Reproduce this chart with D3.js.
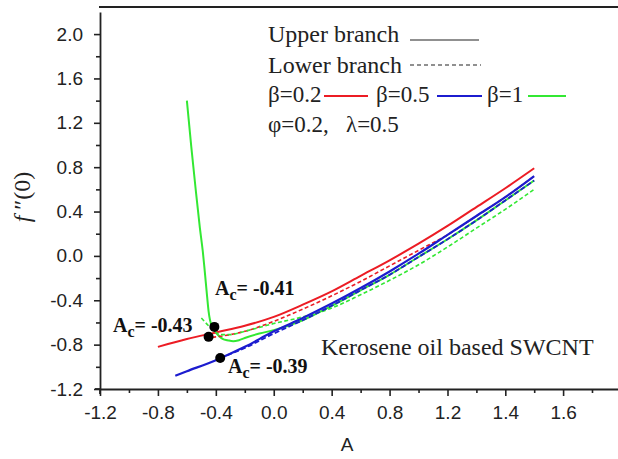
<!DOCTYPE html>
<html>
<head>
<meta charset="utf-8">
<script src="https://cdn.jsdelivr.net/npm/d3@7"></script>
<style>
  body { margin: 0; background: #fff; }
  svg { display: block; }
</style>
</head>
<body>
<svg id="chart" width="618" height="459"></svg>
<script>
// ticks
const xTicks = [-1.2, -0.8, -0.4, 0.0, 0.4, 0.8, 1.2, 1.4, 1.6];
const xMinor = [-1.0, -0.6, -0.2, 0.2, 0.6, 1.0, 1.3, 1.5, 1.7];
const yTicks = [-1.2, -0.8, -0.4, 0.0, 0.4, 0.8, 1.2, 1.6, 2.0];
const yMinor = [-1.0, -0.6, -0.2, 0.2, 0.6, 1.0, 1.4, 1.8];

// beta = 0.2 (red)
const redUpperA = [-0.8, -0.6, -0.4, -0.2, 0.0, 0.2, 0.4, 0.6, 0.8, 1.0, 1.2, 1.3, 1.4, 1.5];
const redUpperF = [-0.82, -0.75, -0.69, -0.63, -0.55, -0.44, -0.32, -0.18, -0.04, 0.11, 0.27, 0.44, 0.61, 0.79];
const redLowerA = [-0.47, -0.4, -0.2, 0.0, 0.2, 0.4, 0.6, 0.8, 1.0, 1.2, 1.3, 1.4, 1.5];
const redLowerF = [-0.74, -0.73, -0.68, -0.59, -0.48, -0.36, -0.23, -0.09, 0.05, 0.19, 0.36, 0.53, 0.72];

// beta = 0.5 (blue)
const blueUpperA = [-0.68, -0.6, -0.4, -0.2, 0.0, 0.2, 0.4, 0.6, 0.8, 1.0, 1.2, 1.3, 1.4, 1.5];
const blueUpperF = [-1.08, -1.04, -0.94, -0.82, -0.68, -0.56, -0.43, -0.29, -0.14, 0.02, 0.19, 0.36, 0.53, 0.72];
const blueLowerA = [-0.37, -0.2, 0.0, 0.2, 0.4, 0.6, 0.8, 1.0, 1.2, 1.3, 1.4, 1.5];
const blueLowerF = [-0.92, -0.83, -0.70, -0.58, -0.45, -0.31, -0.17, -0.01, 0.15, 0.32, 0.50, 0.68];

// beta = 1 (green)
const greenUpperA = [-0.6, -0.57, -0.54, -0.51, -0.49, -0.48, -0.47, -0.46, -0.45, -0.44, -0.43, -0.41, -0.38, -0.35, -0.32, -0.28, -0.24, -0.2, -0.1, 0.0, 0.2, 0.4, 0.6, 0.8, 1.0, 1.2, 1.3, 1.4, 1.5];
const greenUpperF = [1.40, 0.99, 0.61, 0.25, 0.04, -0.09, -0.23, -0.37, -0.50, -0.58, -0.62, -0.67, -0.72, -0.75, -0.76, -0.77, -0.76, -0.74, -0.70, -0.67, -0.58, -0.45, -0.31, -0.17, -0.01, 0.15, 0.32, 0.50, 0.68];
const greenLowerA = [-0.5, -0.45, -0.4, -0.35, -0.3, -0.2, -0.1, 0.0, 0.2, 0.4, 0.6, 0.8, 1.0, 1.2, 1.3, 1.4, 1.5];
const greenLowerF = [-0.56, -0.63, -0.69, -0.71, -0.71, -0.68, -0.645, -0.61, -0.55, -0.47, -0.35, -0.22, -0.08, 0.08, 0.25, 0.42, 0.60];

// critical points
const critA = [-0.45, -0.41, -0.37];
const critF = [-0.73, -0.64, -0.92];
const critLabels = ['-0.43', '-0.41', '-0.39'];

const RED = '#ec1c24', BLUE = '#1c1ccf', GREEN = '#33e833';

const svg = d3.select('#chart');

const x = d3.scaleLinear()
  .domain([-1.2, 1.2, 1.79])
  .range([100, 447.5, 618]);

const y = d3.scaleLinear()
  .domain([-1.2, 2.2])
  .range([389, 11.9]);

const fmt = d => d.toFixed(1);

// top border line
svg.append('line')
  .attr('x1', 99).attr('x2', 618)
  .attr('y1', 7).attr('y2', 7)
  .attr('stroke', '#222').attr('stroke-width', 2);

// X axis
let xAxis = svg.append('g')
  .attr('transform', `translate(0, ${y(-1.2)})`)
  .call(d3.axisBottom(x).tickValues(xTicks).tickFormat(fmt).tickSize(7).tickSizeOuter(0));
xAxis.select('.domain').attr('stroke-width', 1.8).attr('stroke', '#222');
xAxis.selectAll('.tick line').attr('stroke-width', 1.6).attr('stroke', '#222');
xAxis.selectAll('.tick text')
  .attr('font-family', 'Liberation Sans, Arial, sans-serif')
  .attr('font-size', 19).attr('fill', '#222').attr('dy', '1.05em');

svg.append('g')
  .attr('transform', `translate(0, ${y(-1.2)})`)
  .call(d3.axisBottom(x).tickValues(xMinor).tickFormat('').tickSize(4).tickSizeOuter(0))
  .call(g => g.select('.domain').remove())
  .selectAll('.tick line').attr('stroke-width', 1.6).attr('stroke', '#222');

// Y axis
let yAxis = svg.append('g')
  .attr('transform', `translate(${x(-1.2)}, 0)`)
  .call(d3.axisLeft(y).tickValues(yTicks).tickFormat(fmt).tickSize(6).tickSizeOuter(0));
yAxis.select('.domain').attr('stroke-width', 1.8).attr('stroke', '#222');
yAxis.selectAll('.tick line').attr('stroke-width', 1.6).attr('stroke', '#222');
yAxis.selectAll('.tick text')
  .attr('font-family', 'Liberation Sans, Arial, sans-serif')
  .attr('font-size', 19).attr('fill', '#222').attr('x', -17);

svg.append('g')
  .attr('transform', `translate(${x(-1.2)}, 0)`)
  .call(d3.axisLeft(y).tickValues(yMinor).tickFormat('').tickSize(4).tickSizeOuter(0))
  .call(g => g.select('.domain').remove())
  .selectAll('.tick line').attr('stroke-width', 1.6).attr('stroke', '#222');

// small overhang where the axes cross
svg.append('line')
  .attr('x1', x(-1.2)).attr('x2', x(-1.2))
  .attr('y1', y(-1.2)).attr('y2', y(-1.2) + 5)
  .attr('stroke', '#222').attr('stroke-width', 1.8);
svg.append('line')
  .attr('x1', x(-1.2) - 5).attr('x2', x(-1.2))
  .attr('y1', y(-1.2)).attr('y2', y(-1.2))
  .attr('stroke', '#222').attr('stroke-width', 1.8);

// axis titles
svg.append('text')
  .attr('x', 347).attr('y', 451)
  .attr('text-anchor', 'middle')
  .attr('font-family', 'Liberation Sans, Arial, sans-serif')
  .attr('font-size', 19).attr('fill', '#222')
  .text('A');

let yTitle = svg.append('text')
  .attr('transform', 'translate(30, 197) rotate(-90)')
  .attr('text-anchor', 'middle')
  .attr('font-family', 'Liberation Serif, Times New Roman, serif')
  .attr('font-size', 24).attr('fill', '#222');
yTitle.append('tspan').attr('font-style', 'italic').text('f');
yTitle.append('tspan').text(' \u2033(0)');

// curves
const line = d3.line()
  .x(d => x(d[0]))
  .y(d => y(d[1]))
  .curve(d3.curveMonotoneX);

const curves = [
  { a: greenUpperA, f: greenUpperF, color: GREEN, dash: null, w: 2 },
  { a: redLowerA, f: redLowerF, color: RED, dash: '4,2.5', w: 1.6 },
  { a: redUpperA, f: redUpperF, color: RED, dash: null, w: 2 },
  { a: greenLowerA, f: greenLowerF, color: GREEN, dash: '4,2.5', w: 1.6 },
  { a: blueUpperA, f: blueUpperF, color: BLUE, dash: null, w: 2.2 },
  { a: blueLowerA, f: blueLowerF, color: BLUE, dash: '5,2.5', w: 1.8 }
];

curves.forEach(c => {
  let pts = c.a.map((v, i) => [v, c.f[i]]);
  let path = svg.append('path')
    .datum(pts)
    .attr('fill', 'none')
    .attr('stroke', c.color)
    .attr('stroke-width', c.w)
    .attr('d', line);
  if (c.dash) path.attr('stroke-dasharray', c.dash);
});

// critical points
svg.selectAll('.crit')
  .data(critA.map((v, i) => [v, critF[i]]))
  .enter()
  .append('circle')
  .attr('class', 'crit')
  .attr('cx', d => x(d[0]))
  .attr('cy', d => y(d[1]))
  .attr('r', 5)
  .attr('fill', '#000');

function acLabel(px, py, val) {
  let t = svg.append('text')
    .attr('x', px).attr('y', py)
    .attr('font-family', 'Liberation Serif, Times New Roman, serif')
    .attr('font-weight', 'bold')
    .attr('font-size', 20).attr('fill', '#111');
  t.append('tspan').text('A');
  t.append('tspan').attr('dy', 5).attr('font-size', 16).text('c');
  t.append('tspan').attr('dy', -5).text('= ' + val);
}
acLabel(113, 332, critLabels[0]);
acLabel(215, 295, critLabels[1]);
acLabel(228, 373, critLabels[2]);

svg.append('text')
  .attr('x', 321).attr('y', 355)
  .attr('font-family', 'Liberation Serif, Times New Roman, serif')
  .attr('font-size', 24).attr('fill', '#222')
  .text('Kerosene oil based SWCNT');

// legend
const serif = 'Liberation Serif, Times New Roman, serif';
function legText(px, py, s, size) {
  return svg.append('text')
    .attr('x', px).attr('y', py)
    .attr('font-family', serif)
    .attr('font-size', size).attr('fill', '#222')
    .text(s);
}
function legLine(x1, x2, yy, color, dash, w) {
  let l = svg.append('line')
    .attr('x1', x1).attr('x2', x2)
    .attr('y1', yy).attr('y2', yy)
    .attr('stroke', color).attr('stroke-width', w);
  if (dash) l.attr('stroke-dasharray', dash);
}

legText(268, 42, 'Upper branch', 24);
legLine(410, 479, 40, '#222', null, 1.2);
legText(268, 73, 'Lower branch', 24);
legLine(410, 481, 65, '#222', '4,3', 1.2);

legText(268, 102, '\u03b2=0.2', 23);
legLine(324, 368, 96, RED, null, 2);
legText(376, 102, '\u03b2=0.5', 23);
legLine(437, 482, 96, BLUE, null, 2);
legText(487, 102, '\u03b2=1', 23);
legLine(528, 566, 96, GREEN, null, 2);

legText(268, 132, '\u03c6=0.2,   \u03bb=0.5', 23).style('white-space', 'pre');
</script>
</body>
</html>
